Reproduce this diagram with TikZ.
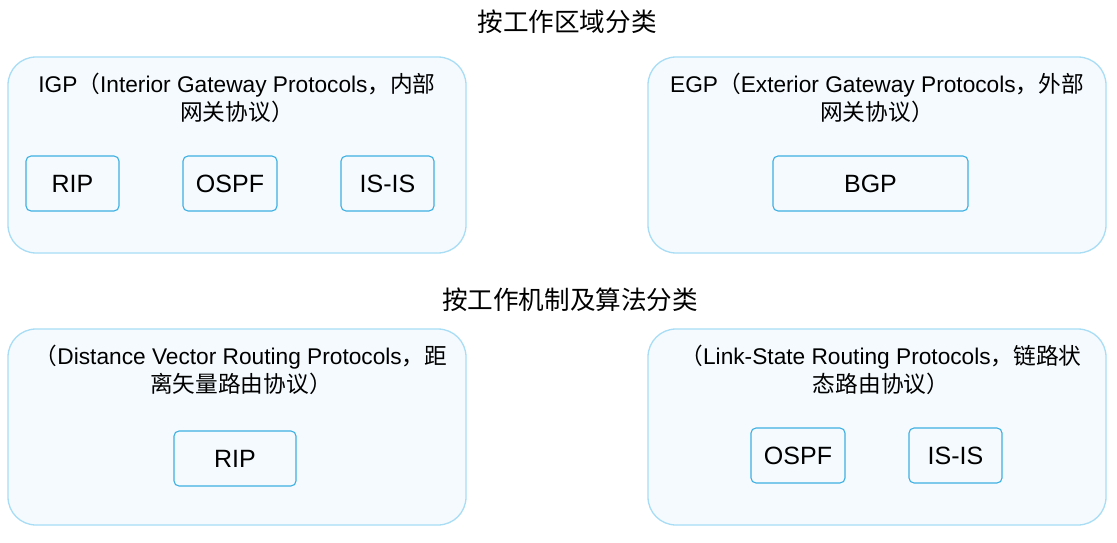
\documentclass[tikz,border=0pt]{standalone}
\usepackage{fontspec}
\setmainfont{Liberation Sans}
\newfontfamily\cjk{Noto Sans CJK SC}
\definecolor{outerfill}{HTML}{F4FAFE}
\definecolor{outerline}{HTML}{A8DDF5}
\definecolor{innerline}{HTML}{3DB0E3}
\begin{document}
\begin{tikzpicture}[x=1pt,y=-1pt,
  group/.style={draw=outerline, fill=outerfill, line width=1.3pt, rounded corners=28pt},
  proto/.style={draw=innerline, fill=outerfill, line width=1.1pt, rounded corners=5pt},
  lbl/.style={font=\fontsize{25}{28}\selectfont},
  head/.style={font=\fontsize{22.7}{28}\selectfont, align=center},
  ttl/.style={font=\fontsize{25.6}{28}\selectfont\cjk}]
\useasboundingbox (0,0) rectangle (1117,543);
% titles
\node[ttl] (t1) at (567,22) {按工作区域分类};
\node[ttl] (t2) at (570,300) {按工作机制及算法分类};
% groups
\draw[group] (8,57) rectangle (466,253);
\draw[group] (648,57) rectangle (1106,253);
\draw[group] (8,329) rectangle (466,525);
\draw[group] (648,329) rectangle (1106,525);
% headers
\node[head] (h1) at (237,98) {IGP{\cjk（}Interior Gateway Protocols{\cjk，内部}\\{\cjk 网关协议）}};
\node[head] (h2) at (877,98) {EGP{\cjk（}Exterior Gateway Protocols{\cjk，外部}\\{\cjk 网关协议）}};
\node[head] (h3) at (241,370) {{\cjk（}Distance Vector Routing Protocols{\cjk，距}\\{\cjk 离矢量路由协议）}};
\node[head] (h4) at (881,370) {{\cjk（}Link-State Routing Protocols{\cjk，链路状}\\{\cjk 态路由协议）}};
% protocols
\draw[proto] (26,156) rectangle (119,211);
\node[lbl] (rip1) at (72.5,183.5) {RIP};
\draw[proto] (183,156) rectangle (277,211);
\node[lbl] (ospf1) at (230,183.5) {OSPF};
\draw[proto] (341,156) rectangle (434,211);
\node[lbl] (isis1) at (387.5,183.5) {IS-IS};
\draw[proto] (773,156) rectangle (968,211);
\node[lbl] (bgp) at (870.5,183.5) {BGP};
\draw[proto] (174,431) rectangle (296,486);
\node[lbl] (rip2) at (235,458.5) {RIP};
\draw[proto] (751,428) rectangle (845,483);
\node[lbl] (ospf2) at (798,455.5) {OSPF};
\draw[proto] (909,428) rectangle (1002,483);
\node[lbl] (isis2) at (955.5,455.5) {IS-IS};
\end{tikzpicture}
\end{document}
